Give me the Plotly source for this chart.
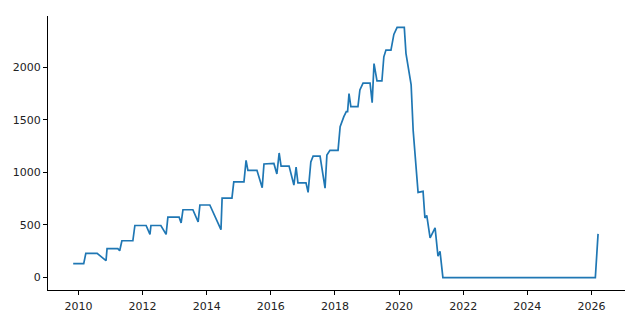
import plotly.graph_objects as go

dates = [
    "2009-11-01", "2010-03-01", "2010-03-25", "2010-08-01", "2010-11-10", "2010-11-22",
    "2011-03-25", "2011-04-15", "2011-05-10", "2011-09-12", "2011-10-05",
    "2012-02-10", "2012-03-25", "2012-04-05", "2012-07-27", "2012-09-25", "2012-10-15",
    "2013-02-20", "2013-03-15", "2013-04-05", "2013-07-27", "2013-09-25", "2013-10-15",
    "2014-02-05", "2014-06-12", "2014-06-25", "2014-10-15", "2014-11-05",
    "2015-03-01", "2015-03-25", "2015-04-15", "2015-07-27", "2015-09-25", "2015-10-15",
    "2016-02-05", "2016-03-10", "2016-04-05", "2016-04-27", "2016-07-27", "2016-09-20",
    "2016-10-15", "2016-11-05",
    "2017-02-05", "2017-03-01", "2017-04-01", "2017-04-27", "2017-07-15", "2017-09-10",
    "2017-10-01", "2017-11-05",
    "2018-02-05", "2018-03-01", "2018-04-12", "2018-05-10", "2018-05-25", "2018-06-10",
    "2018-07-01", "2018-09-20", "2018-10-12", "2018-11-17",
    "2019-02-05", "2019-03-01", "2019-03-22", "2019-04-25", "2019-06-20", "2019-07-12",
    "2019-08-05", "2019-10-01", "2019-11-03", "2019-12-10",
    "2020-03-01", "2020-03-20", "2020-05-18", "2020-06-10", "2020-08-05", "2020-10-01",
    "2020-10-22", "2020-11-12", "2020-12-20",
    "2021-02-15", "2021-03-20", "2021-04-12", "2021-05-15",
    "2026-02-15", "2026-03-18",
]

values = [
    133, 133, 230, 230, 160, 275,
    275, 255, 350, 350, 495,
    495, 410, 495, 495, 410, 575,
    575, 520, 645, 645, 530, 690,
    690, 455, 755, 755, 910,
    910, 1115, 1020, 1020, 855, 1080,
    1085, 985, 1185, 1060, 1060, 880,
    1050, 900,
    900, 810, 1100, 1155, 1155, 850,
    1165, 1210,
    1210, 1436, 1531, 1579, 1579, 1750,
    1626, 1626, 1785, 1850,
    1850, 1664, 2035, 1870, 1870, 2100,
    2164, 2164, 2313, 2380,
    2380, 2133, 1832, 1400, 810, 820,
    567, 591, 377,
    472, 203, 250, 0,
    0, 415,
]

tick_years = ["2010", "2012", "2014", "2016", "2018", "2020", "2022", "2024", "2026"]
y_ticks = [0, 500, 1000, 1500, 2000]

fig = go.Figure()
fig.add_trace(go.Scatter(
    x=dates, y=values, mode="lines",
    line=dict(color="#1f77b4", width=1.7),
    showlegend=False,
))

axis_common = dict(
    showgrid=False, zeroline=False, showline=True, linecolor="black", linewidth=1,
    ticks="outside", ticklen=4, tickwidth=1, tickcolor="black",
    tickfont=dict(family="DejaVu Sans", size=11, color="#222222"),
    automargin=False,
)

fig.update_xaxes(
    type="date",
    range=["2009-01-18", "2027-01-19"],
    tickvals=[y + "-01-01" for y in tick_years],
    ticktext=tick_years,
    ticklabelstandoff=2,
    **axis_common,
)
fig.update_yaxes(
    range=[-118.5, 2488],
    tickvals=y_ticks,
    ticktext=[str(v) for v in y_ticks],
    **axis_common,
)

fig.update_layout(
    width=640, height=320,
    margin=dict(l=48, r=15, t=16, b=30),
    plot_bgcolor="white", paper_bgcolor="white",
    font=dict(family="DejaVu Sans", size=11, color="#222222"),
)

fig.write_html("out.html")
